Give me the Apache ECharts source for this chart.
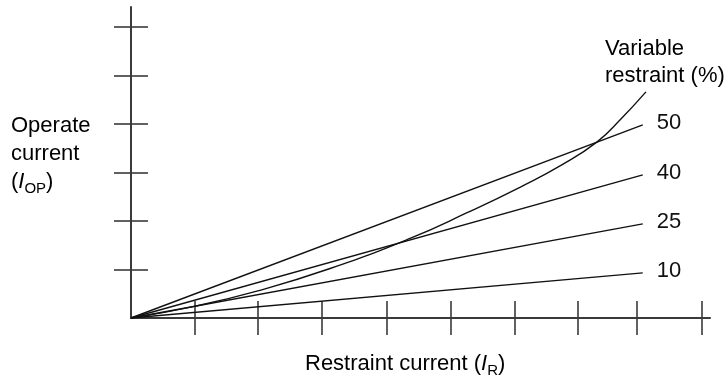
<!DOCTYPE html>
<html>
<head>
<meta charset="utf-8">
<script src="https://cdn.jsdelivr.net/npm/echarts@6/dist/echarts.min.js"></script>
<style>html,body{margin:0;padding:0;background:#fff;}#c{width:726px;height:380px;}</style>
</head>
<body>
<div id="c"></div>
<script>
// Axis extents and tick positions (in tick units)
const xMax = 9.13;
const yMax = 6.41;
const xTicks = [1, 2, 3, 4.03, 5.04, 6.05, 7.05, 7.98, 9.0];
const yTicks = [1, 2, 3, 4, 5, 6];

// Fixed-percentage restraint lines: start at origin, end at (lineEndX, end value)
const lineNames = ['50', '40', '25', '10'];
const lineEndX = 8.07;
const lineEndY = [3.98, 2.95, 1.94, 0.93];

// Variable restraint curve
const curveX = [0, 1, 2, 3.14, 4.4, 5.3, 6.14, 6.8, 7.35, 7.71, 8.12];
const curveY = [0, 0.24, 0.56, 1.02, 1.64, 2.17, 2.70, 3.16, 3.63, 4.08, 4.66];

const FONT = '"Liberation Sans", Arial, sans-serif';
const FS = 22;
const TXT = '#111';
const AX = '#3a3a3a';

const chart = echarts.init(document.getElementById('c'), null, {renderer: 'canvas'});

const lineSeries = lineNames.map((n, i) => ({
  type: 'line',
  name: n,
  xAxisIndex: 0, yAxisIndex: 0,
  data: [[0, 0], [lineEndX, lineEndY[i]]],
  showSymbol: false,
  symbol: 'none',
  lineStyle: {color: '#111', width: 1.4},
  endLabel: {
    show: true,
    formatter: n,
    distance: 14,
    offset: [0, -2],
    color: TXT,
    fontSize: FS,
    fontFamily: FONT
  },
  silent: true
}));

const curveSeries = {
  type: 'line',
  name: 'variable',
  xAxisIndex: 0, yAxisIndex: 0,
  data: curveX.map((x, i) => [x, curveY[i]]),
  smooth: 0.5,
  showSymbol: false,
  symbol: 'none',
  lineStyle: {color: '#111', width: 1.4},
  silent: true
};

function xAxisDef(inside, showLine) {
  return {
    type: 'value', position: 'bottom', min: 0, max: xMax,
    axisLine: {show: showLine, onZero: false, lineStyle: {color: AX, width: 2}},
    axisTick: {show: true, inside: inside, length: 17, customValues: xTicks, lineStyle: {color: AX, width: 1.6}},
    axisLabel: {show: false},
    splitLine: {show: false}
  };
}
function yAxisDef(inside, showLine) {
  return {
    type: 'value', position: 'left', min: 0, max: yMax,
    axisLine: {show: showLine, onZero: false, lineStyle: {color: AX, width: 2}},
    axisTick: {show: true, inside: inside, length: 17, customValues: yTicks, lineStyle: {color: AX, width: 1.6}},
    axisLabel: {show: false},
    splitLine: {show: false}
  };
}

const rich = {
  n: {fontSize: FS, fontFamily: FONT, color: TXT, lineHeight: 28},
  i: {fontSize: FS, fontFamily: FONT, color: TXT, fontStyle: 'italic', lineHeight: 28},
  s: {fontSize: 15, fontFamily: FONT, color: TXT, lineHeight: 15, verticalAlign: 'bottom'}
};

chart.setOption({
  animation: false,
  grid: {left: 131, right: 16, top: 7, bottom: 62, containLabel: false},
  xAxis: [xAxisDef(false, true), xAxisDef(true, false)],
  yAxis: [yAxisDef(false, true), yAxisDef(true, false)],
  series: [...lineSeries, curveSeries],
  graphic: [
    {
      type: 'text', left: 11, top: 115, silent: true,
      style: {
        text: '{n|Operate}\n{n|current}\n{n|(}{i|I}{s|OP}{n|)}',
        rich: rich
      }
    },
    {
      type: 'text', left: 305, top: 353, silent: true,
      style: {
        text: '{n|Restraint current (}{i|I}{s|R}{n|)}',
        rich: rich
      }
    },
    {
      type: 'text', left: 605, top: 38, silent: true,
      style: {
        text: '{n|Variable}\n{n|restraint (%)}',
        rich: {n: {fontSize: FS, fontFamily: FONT, color: TXT, lineHeight: 27}}
      }
    }
  ]
});
</script>
</body>
</html>
